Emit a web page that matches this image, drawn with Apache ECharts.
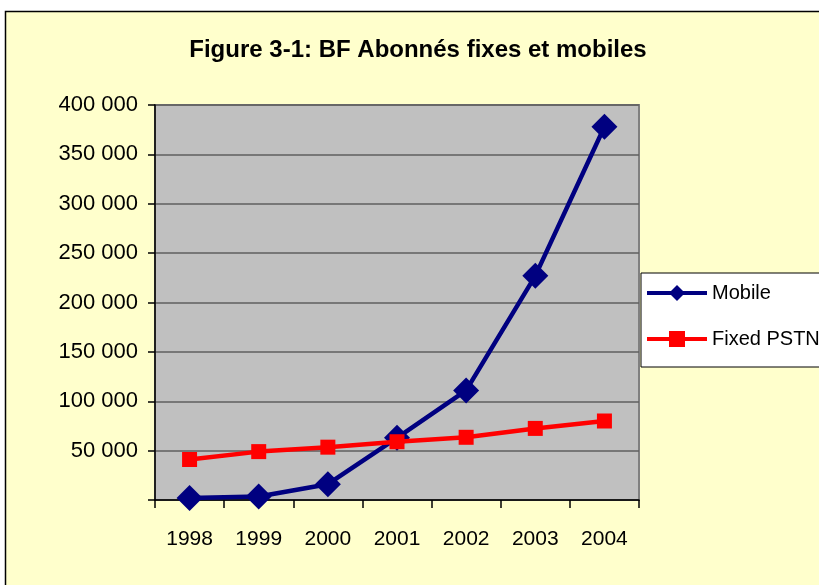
<!DOCTYPE html>
<html>
<head>
<meta charset="utf-8">
<script src="https://cdn.jsdelivr.net/npm/echarts@6/dist/echarts.min.js"></script>
<style>
html,body{margin:0;padding:0;background:#fff;}
#chart{width:819px;height:585px;}
</style>
</head>
<body>
<div id="chart"></div>
<script>
const titleText = 'Figure 3-1: BF Abonnés fixes et mobiles';
const years = ['1998', '1999', '2000', '2001', '2002', '2003', '2004'];
const mobile = [2000, 3500, 16000, 63000, 111000, 227000, 378000];
const fixedPSTN = [41000, 49000, 53500, 59000, 63500, 72500, 80000];
const seriesNames = ['Mobile', 'Fixed PSTN'];

const font = '"Liberation Sans", Arial, sans-serif';
const chart = echarts.init(document.getElementById('chart'));
chart.setOption({
  backgroundColor: '#ffffff',
  animation: false,
  graphic: [{
    type: 'rect', z: -10, silent: true,
    shape: { x: 5.5, y: 11.5, width: 900, height: 700 },
    style: { fill: '#FFFFCC', stroke: '#000', lineWidth: 1.5 }
  }],
  title: {
    text: titleText, left: 413, top: 33, textAlign: 'center',
    textStyle: { fontFamily: font, fontWeight: 'bold', fontSize: 24, color: '#000' }
  },
  legend: {
    orient: 'vertical', left: 641, top: 273,
    backgroundColor: '#fff', borderColor: '#000', borderWidth: 1,
    padding: [10, 60, 18, 4], itemWidth: 60, itemHeight: 20, itemGap: 26,
    lineStyle: { width: 4 },
    textStyle: { fontFamily: font, fontSize: 20, color: '#000' },
    data: seriesNames
  },
  grid: {
    left: 155, top: 105, width: 484, height: 395,
    show: true, backgroundColor: '#C0C0C0', borderColor: '#808080', borderWidth: 2
  },
  xAxis: {
    type: 'category', data: years, boundaryGap: true,
    axisLine: { lineStyle: { color: '#000', width: 1.5 } },
    axisTick: { show: true, length: 8, alignWithLabel: false, lineStyle: { color: '#000', width: 1.5 } },
    axisLabel: { margin: 29, fontFamily: font, fontSize: 21, color: '#000' },
    splitLine: { show: false }
  },
  yAxis: {
    type: 'value', min: 0, max: 400000, interval: 50000,
    axisLine: { show: true, lineStyle: { color: '#000', width: 1.5 } },
    axisTick: { show: true, length: 7, lineStyle: { color: '#000', width: 1.5 } },
    axisLabel: {
      margin: 17, fontFamily: font, fontSize: 22, color: '#000',
      formatter: v => v === 0 ? '' : String(v).replace(/\B(?=(\d{3})+(?!\d))/g, ' ')
    },
    splitLine: { show: true, lineStyle: { color: '#5f5f5f', width: 1.5 } }
  },
  series: [{
    name: seriesNames[0], type: 'line', data: mobile,
    symbol: 'diamond', symbolSize: [26, 26],
    itemStyle: { color: '#000080' },
    lineStyle: { color: '#000080', width: 4.5 }, z: 3
  }, {
    name: seriesNames[1], type: 'line', data: fixedPSTN,
    symbol: 'rect', symbolSize: 15,
    itemStyle: { color: '#FF0000' },
    lineStyle: { color: '#FF0000', width: 4.5 }, z: 4
  }]
});
</script>
</body>
</html>
